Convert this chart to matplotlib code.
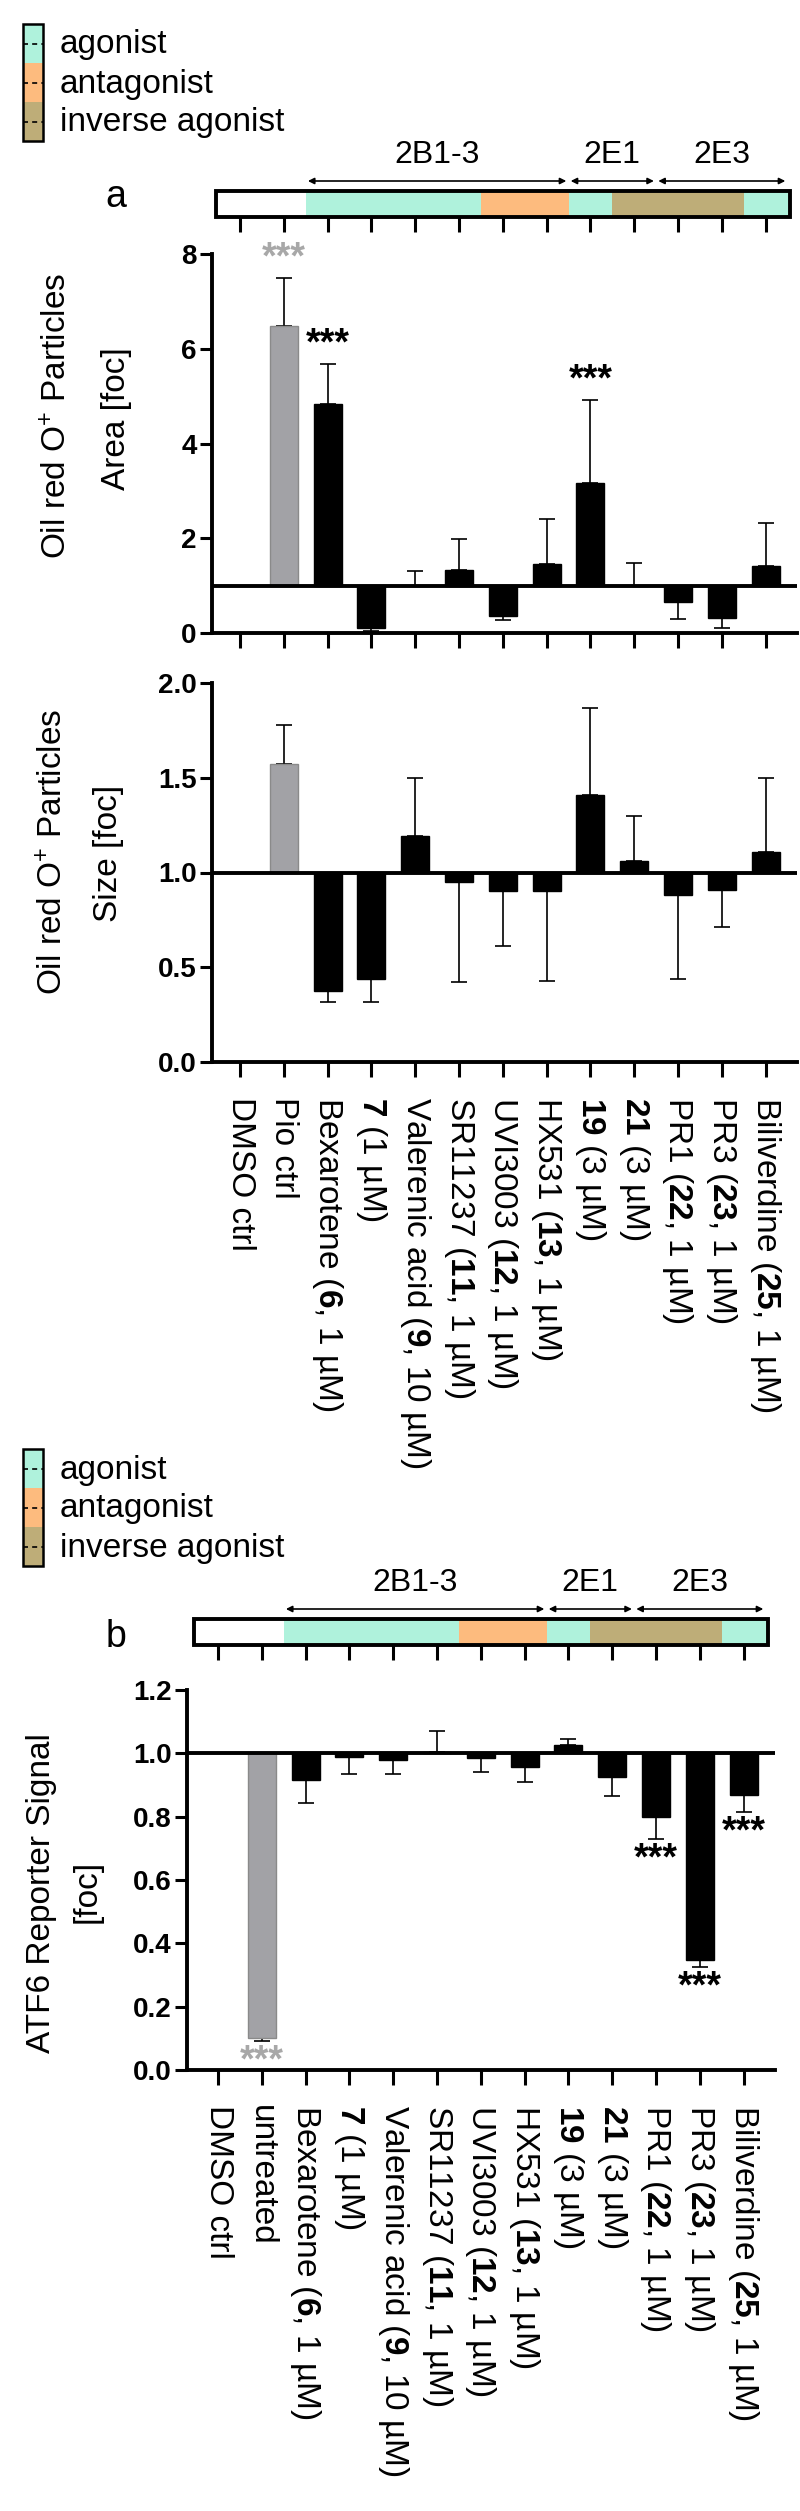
import matplotlib
matplotlib.use('Agg')  # no display
import matplotlib.pyplot as plt
import numpy as np
from matplotlib.patches import Rectangle

# ---- data ----
labels_a = ["DMSO ctrl", "Pio ctrl", r"Bexarotene ($\mathbf{6}$, 1 µM)", r"$\mathbf{7}$ (1 µM)",
            r"Valerenic acid ($\mathbf{9}$, 10 µM)", r"SR11237 ($\mathbf{11}$, 1 µM)",
            r"UVI3003 ($\mathbf{12}$, 1 µM)", r"HX531 ($\mathbf{13}$, 1 µM)", r"$\mathbf{19}$ (3 µM)",
            r"$\mathbf{21}$ (3 µM)", r"PR1 ($\mathbf{22}$, 1 µM)", r"PR3 ($\mathbf{23}$, 1 µM)",
            r"Biliverdine ($\mathbf{25}$, 1 µM)"]
labels_b = ["DMSO ctrl", "untreated"] + labels_a[2:]

# activity class of each compound (strip above the plots)
activity = ["none", "none", "ago", "ago", "ago", "ago", "ant", "ant",
            "ago", "inv", "inv", "inv", "ago"]
groups = ["2B1-3", "2E1", "2E3"]
group_first = [2, 8, 10]
group_last = [7, 9, 12]

area_mean = [1.0, 6.47, 4.83, 0.105, 1.0, 1.34, 0.35, 1.46, 3.16, 1.0, 0.65, 0.32, 1.41]
area_sd = [0.0, 1.03, 0.84, 0.07, 0.31, 0.64, 0.08, 0.95, 1.75, 0.48, 0.35, 0.21, 0.91]
area_sig = ["", "***", "***", "", "", "", "", "", "***", "", "", "", ""]

size_mean = [1.0, 1.57, 0.377, 0.44, 1.19, 0.95, 0.90, 0.90, 1.41, 1.06, 0.88, 0.91, 1.11]
size_sd = [0.0, 0.21, 0.06, 0.125, 0.31, 0.53, 0.29, 0.47, 0.46, 0.24, 0.44, 0.20, 0.39]
size_sig = [""] * 13

atf6_mean = [1.0, 0.10, 0.916, 0.99, 0.98, 1.005, 0.986, 0.958, 1.026, 0.926, 0.80, 0.347, 0.868]
atf6_sd = [0.0, 0.007, 0.074, 0.055, 0.046, 0.065, 0.044, 0.05, 0.019, 0.061, 0.07, 0.023, 0.052]
atf6_sig = ["", "***", "", "", "", "", "", "", "", "", "***", "***", "***"]

legend_names = ["agonist", "antagonist", "inverse agonist"]

# ---- style ----
W, H = 800, 2511
DX = 43.8  # px between categories
COLORS = {"none": "white", "ago": "#aff2dc", "ant": "#fdbb7e", "inv": "#bead78"}
GRAY = "#a2a2a6"
STARGRAY = "#a8a8a8"
LW = 2.8

plt.rcParams['font.family'] = ['Liberation Sans', 'DejaVu Sans']
plt.rcParams['mathtext.fontset'] = 'custom'
plt.rcParams['mathtext.rm'] = 'Liberation Sans'
plt.rcParams['mathtext.bf'] = 'Liberation Sans:bold'
plt.rcParams['mathtext.it'] = 'Liberation Sans:italic'


def rect(l, t, r, b):
    """ pixel box -> figure fraction rect """
    return [l / W, 1 - b / H, (r - l) / W, (b - t) / H]


def bar_panel(ax, mean, sd, sig, ylim, yticks, fmt, star_off):
    n = len(mean)
    for i in range(1, n):
        m, s = mean[i], sd[i]
        col = GRAY if i == 1 else 'black'
        ax.bar(i, m - 1, bottom=1, width=0.64, color=col,
               edgecolor='#8a8a8a' if i == 1 else 'black', lw=1, zorder=3)
        up = m >= 1
        yerr = [[0], [s]] if up else [[s], [0]]
        if s > 0:
            ax.errorbar(i, m, yerr=yerr, fmt='none', ecolor='black', elinewidth=1.2,
                        capsize=5.5, capthick=1.2, zorder=2)
        if sig[i]:
            end = m + s if up else m - s
            ypos = end + star_off if up else end - star_off
            ax.text(i, ypos, sig[i], ha='center', va='center', fontsize=27,
                    fontweight='bold', color=STARGRAY if i == 1 else 'black', zorder=5)
    ax.axhline(1, color='black', lw=LW, zorder=4)
    ax.set_ylim(*ylim)
    ax.set_yticks(yticks)
    ax.set_yticklabels([fmt.format(v) for v in yticks], fontsize=20, fontweight='bold')
    ax.set_xticks(np.arange(n))
    for sp in ['top', 'right']:
        ax.spines[sp].set_visible(False)
    for sp in ['left', 'bottom']:
        ax.spines[sp].set_linewidth(LW)
    ax.tick_params(axis='x', length=11, width=2.2, pad=14)
    ax.tick_params(axis='y', length=9, width=2.2, pad=2)
    ax.patch.set_visible(False)


def strip(fig, l, r, top, xlim):
    """ activity strip with group arrows; top = pixel y of the group labels """
    ax = fig.add_axes(rect(l, top - 20, r, top + 80))
    ax.set_xlim(*xlim)
    ax.set_ylim(top + 80, top - 20)
    ax.axis('off')
    ys, hs = top + 36, 26
    n = len(activity)
    for i, a in enumerate(activity):
        x0 = -0.55 if i == 0 else i - 0.5
        x1 = n - 0.45 if i == n - 1 else i + 0.5
        ax.add_patch(Rectangle((x0, ys), x1 - x0, hs, color=COLORS[a], lw=0))
    ax.add_patch(Rectangle((-0.55, ys), n + 0.1, hs, fill=False, ec='black', lw=LW))
    ax.vlines(np.arange(n), ys + hs, ys + hs + 15, color='black', lw=2.2)
    for g, f, la in zip(groups, group_first, group_last):
        x0, x1 = f - 0.45, la + 0.45
        ax.annotate('', xy=(x1, top + 26), xytext=(x0, top + 26),
                    arrowprops=dict(arrowstyle='<|-|>', lw=1.2, color='black',
                                    mutation_scale=9, shrinkA=0, shrinkB=0))
        ax.text((x0 + x1) / 2, top, g, ha='center', va='center', fontsize=23)


def legend(ov, top):
    for k, (name, key) in enumerate(zip(legend_names, ["ago", "ant", "inv"])):
        y0 = top + 39 * k
        ov.add_patch(Rectangle((23, y0), 20, 39, color=COLORS[key], lw=0))
        ov.plot([23, 43], [y0 + 19.5, y0 + 19.5], color='black', lw=1.2, ls=(0, (3, 2.5)))
        ov.text(60, y0 + 21, name, ha='left', va='center', fontsize=24)
    ov.add_patch(Rectangle((23, top), 20, 117, fill=False, ec='black', lw=1.8))


fig = plt.figure(figsize=(W / 100, H / 100), dpi=100)
ov = fig.add_axes([0, 0, 1, 1])
ov.set_xlim(0, W)
ov.set_ylim(H, 0)
ov.axis('off')

# ---------- panel a ----------
xa = (212, 797, 240)
xlim_a = ((xa[0] - xa[2]) / DX, (xa[1] - xa[2]) / DX)
legend(ov, 24)
ov.text(116, 207, 'a', fontsize=27, ha='center', va='baseline')
strip(fig, xa[0], xa[1], 155, xlim_a)

ax1 = fig.add_axes(rect(xa[0], 254, xa[1], 633))
bar_panel(ax1, area_mean, area_sd, area_sig, (0, 8), [0, 2, 4, 6, 8], '{:.0f}', 0.41)
ax1.set_xlim(*xlim_a)
ax1.set_xticklabels([])
ov.text(58, 416, r'Oil red O$^{+}$ Particles', rotation=90, ha='center', va='center', fontsize=24)
ov.text(117, 419, 'Area [foc]', rotation=90, ha='center', va='center', fontsize=24)

ax2 = fig.add_axes(rect(xa[0], 683, xa[1], 1062))
bar_panel(ax2, size_mean, size_sd, size_sig, (0, 2), [0, 0.5, 1.0, 1.5, 2.0], '{:.1f}', 0.1)
ax2.set_xlim(*xlim_a)
ax2.set_xticklabels(labels_a, rotation=270, ha='center', va='top', fontsize=24)
ov.text(54, 852, r'Oil red O$^{+}$ Particles', rotation=90, ha='center', va='center', fontsize=24)
ov.text(108, 853, 'Size [foc]', rotation=90, ha='center', va='center', fontsize=24)

# ---------- panel b ----------
xb = (187, 775, 218)
xlim_b = ((xb[0] - xb[2]) / DX, (xb[1] - xb[2]) / DX)
legend(ov, 1449)
ov.text(116, 1647, 'b', fontsize=27, ha='center', va='baseline')
strip(fig, xb[0], xb[1], 1583, xlim_b)

ax3 = fig.add_axes(rect(xb[0], 1690, xb[1], 2070))
bar_panel(ax3, atf6_mean, atf6_sd, atf6_sig, (0, 1.2),
          [0, 0.2, 0.4, 0.6, 0.8, 1.0, 1.2], '{:.1f}', 0.065)
ax3.set_xlim(*xlim_b)
ax3.set_xticklabels(labels_b, rotation=270, ha='center', va='top', fontsize=24)
ov.text(42, 1893, 'ATF6 Reporter Signal', rotation=90, ha='center', va='center', fontsize=24)
ov.text(87, 1891, '[foc]', rotation=90, ha='center', va='center', fontsize=24)

fig.savefig('out.png', dpi=100)
